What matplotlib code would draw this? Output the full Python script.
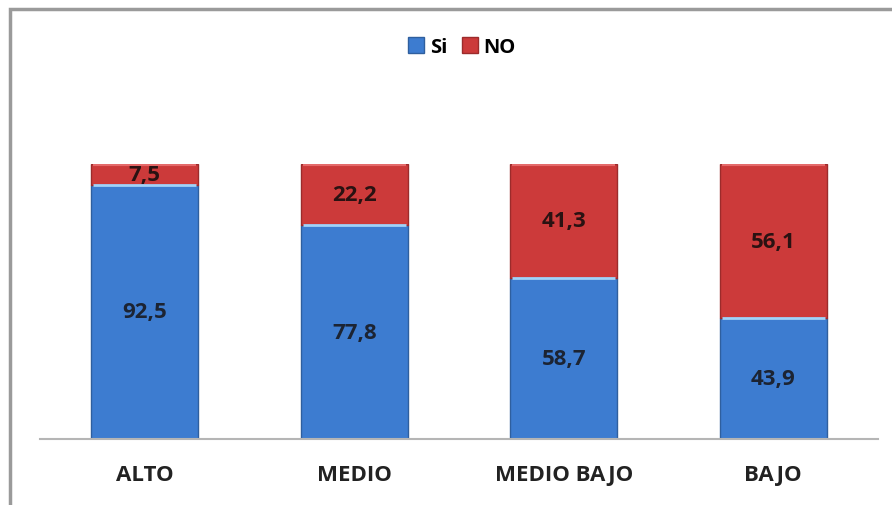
import numpy as np
import matplotlib.pyplot as plt
from matplotlib.patches import Patch, Rectangle

plt.rcParams['font.family'] = ['Open Sans', 'DejaVu Sans']

# datos por nivel
niveles = ["ALTO", "MEDIO", "MEDIO BAJO", "BAJO"]
si_vals = [92.5, 77.8, 58.7, 43.9]
no_vals = [7.5, 22.2, 41.3, 56.1]

c_si = "#3d7cd0"
c_no = "#cc3a3a"

fig = plt.figure(figsize=(8.92, 5.06), dpi=100)
fig.patch.set_facecolor("white")

# marco del gráfico
fig.patches.append(Rectangle((10 / 892, -0.05), 1.1, 1 - 10 / 506 + 0.05,
                             transform=fig.transFigure, fill=False,
                             edgecolor="#9a9a9a", linewidth=2.5))

ax = fig.add_axes([40 / 892, 1 - 440 / 506, 838 / 892, 275 / 506])
x = np.arange(len(niveles))
w = 0.51

ax.bar(x, si_vals, w, color=c_si, edgecolor="#2f5f9e", linewidth=1.0)
ax.bar(x, no_vals, w, bottom=si_vals, color=c_no, edgecolor="#9c2b2b", linewidth=1.0)

# brillo en el borde superior de cada tramo
ax.hlines(si_vals, x - w / 2 + 0.01, x + w / 2 - 0.01, color="#9fd3fa", linewidth=2.0)
tops = np.array(si_vals) + np.array(no_vals)
ax.hlines(tops - 0.4, x - w / 2 + 0.01, x + w / 2 - 0.01, color="#e46a6a", linewidth=1.5)

for i in range(len(niveles)):
    ax.text(x[i], si_vals[i] / 2, f"{si_vals[i]:.1f}".replace(".", ","),
            ha="center", va="center", fontsize=16, fontweight="bold", color="#1c2433")
    ax.text(x[i], si_vals[i] + no_vals[i] / 2, f"{no_vals[i]:.1f}".replace(".", ","),
            ha="center", va="center", fontsize=16, fontweight="bold", color="#2a1212")

ax.set_xlim(-0.5, 3.5)
ax.set_ylim(0, 100)
ax.set_xticks(x)
ax.set_xticklabels(niveles, fontsize=16, fontweight="bold", color="#222222")
ax.tick_params(axis="x", length=0, pad=18)
ax.set_yticks([])
for s in ["top", "right", "left"]:
    ax.spines[s].set_visible(False)
ax.spines["bottom"].set_color("#b5b5b5")
ax.spines["bottom"].set_linewidth(1.5)

handles = [Patch(facecolor=c_si, edgecolor="#2f5f9e", label="Si"),
           Patch(facecolor=c_no, edgecolor="#9c2b2b", label="NO")]
fig.legend(handles=handles, loc="center", bbox_to_anchor=(462 / 892, 1 - 48 / 506),
           ncol=2, frameon=False, handlelength=0.8, handleheight=0.8,
           handletextpad=0.3, columnspacing=0.7,
           prop={"size": 14.5, "weight": "bold"})

fig.savefig("out.png", dpi=100)
